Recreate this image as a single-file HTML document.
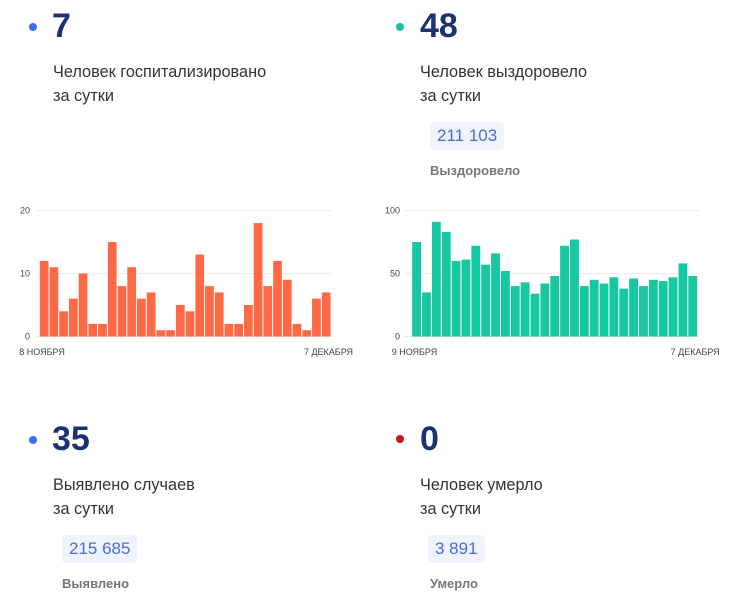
<!DOCTYPE html>
<html><head><meta charset="utf-8"><style>
body{margin:0;width:745px;height:600px;background:#fff;font-family:"Liberation Sans",sans-serif;position:relative;overflow:hidden}
.a{position:absolute}
.dot{width:8px;height:8px;border-radius:50%}
.num{font-size:34px;font-weight:bold;color:#1b3272;line-height:1}
.lbl{font-size:16.3px;color:#333;line-height:24px}
.badge{background:#eef3fd;color:#4a6bd0;font-size:17px;padding:4px 7px;border-radius:4px;line-height:20px}
.sub{font-size:13px;font-weight:bold;color:#777}
</style></head><body>
<div class="a dot" style="left:29px;top:23px;background:#3d6df2"></div>
<div class="a num" style="left:52px;top:9px">7</div>
<div class="a lbl" style="left:53px;top:60px">Человек госпитализировано<br>за сутки</div>

<div class="a dot" style="left:396px;top:23px;background:#1ac2a0"></div>
<div class="a num" style="left:420px;top:9px">48</div>
<div class="a lbl" style="left:420px;top:60px">Человек выздоровело<br>за сутки</div>
<div class="a badge" style="left:430px;top:122px">211 103</div>
<div class="a sub" style="left:430px;top:163px">Выздоровело</div>

<div class="a dot" style="left:29px;top:436px;background:#3d6df2"></div>
<div class="a num" style="left:52px;top:422px">35</div>
<div class="a lbl" style="left:53px;top:473px">Выявлено случаев<br>за сутки</div>
<div class="a badge" style="left:62px;top:535px">215 685</div>
<div class="a sub" style="left:62px;top:576px">Выявлено</div>

<div class="a dot" style="left:396px;top:435px;background:#c8141e"></div>
<div class="a num" style="left:420px;top:422px">0</div>
<div class="a lbl" style="left:420px;top:473px">Человек умерло<br>за сутки</div>
<div class="a badge" style="left:428px;top:535px">3 891</div>
<div class="a sub" style="left:430px;top:576px">Умерло</div>

<svg class="a" style="left:0;top:0" width="745" height="600" id="charts"></svg>
<script>
const hospValues=[12,11,4,6,10,2,2,15,8,11,6,7,1,1,5,4,13,8,7,2,2,5,18,8,12,9,2,1,6,7];
const hospTicks=[0,10,20];
const hospDates=["8 НОЯБРЯ","7 ДЕКАБРЯ"];
const recValues=[75,35,91,83,60,61,72,57,66,52,40,43,34,42,48,72,77,40,45,42,47,38,46,40,45,44,47,58,48];
const recTicks=[0,50,100];
const recDates=["9 НОЯБРЯ","7 ДЕКАБРЯ"];
const svg=document.getElementById('charts');
const NS='http://www.w3.org/2000/svg';
function mk(t,a){const e=document.createElementNS(NS,t);for(const k in a)e.setAttribute(k,a[k]);svg.appendChild(e);return e;}
function chart(vals,ticks,dates,x0,x1,max,color,tickX,gx0,prefix){
  const y0=336.5,y1=210.5;
  const ys=v=>y0-(v/max)*(y0-y1);
  ticks.forEach(t=>{
    const l=mk('line',{x1:gx0,x2:x1+1,y1:ys(t),y2:ys(t),stroke:'#ececec','stroke-width':1});
    
    
    const tx=mk('text',{x:tickX,y:ys(t)+3,'text-anchor':'end','font-size':9,fill:'#444','font-family':'Liberation Sans, sans-serif'});
    tx.textContent=t;
    
    
  });
  const bw=(x1-x0)/vals.length;
  vals.forEach((v,i)=>{
    const r=mk('rect',{x:x0+i*bw+0.5,y:ys(v),width:bw-1,height:y0-ys(v),fill:color});
    
    
  });
  const d1=mk('text',{x:x0-20,y:355,'font-size':9,fill:'#444','font-family':'Liberation Sans, sans-serif'});
  d1.textContent=dates[0];
  
  
  const d2=mk('text',{x:x1+22,y:355,'text-anchor':'end','font-size':9,fill:'#444','font-family':'Liberation Sans, sans-serif'});
  d2.textContent=dates[1];
  
  
}
chart(hospValues,hospTicks,hospDates,39.3,331,20,'#fd6a45',30,37,'hospital');
chart(recValues,recTicks,recDates,411.7,697.7,100,'#16c7a1',400,404,'recovered');
</script>
</body></html>
